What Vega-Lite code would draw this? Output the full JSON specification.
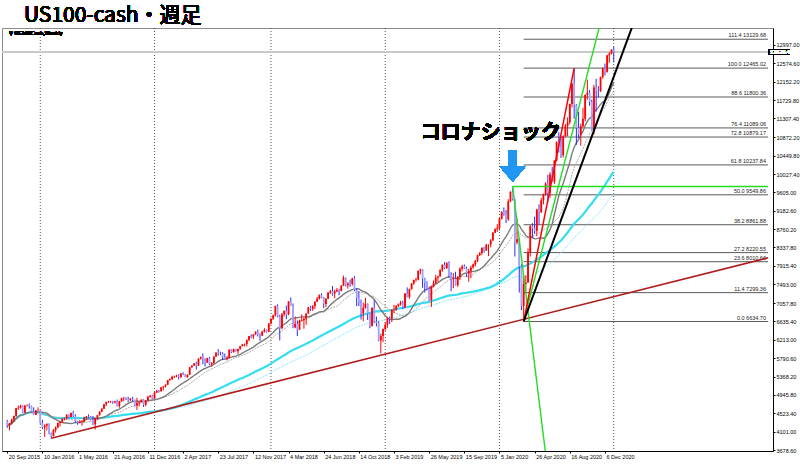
{
"$schema": "https://vega.github.io/schema/vega-lite/v6.json",
"width": 771, "height": 423,
"autosize": {"type": "none"},
"padding": {"left": 2, "top": 28, "right": 27, "bottom": 18},
"background": "white",
"config": {"view": {"stroke": "#8c8c8c", "strokeWidth": 1}, "axis": {"grid": false, "labelOverlap": false, "labelFlush": false}},
"data": {"values": [
{"d":"2015-09-20","o":4340,"h":4370,"l":4190,"c":4240},
{"d":"2015-09-27","o":4240,"h":4300,"l":4130,"c":4290},
{"d":"2015-10-04","o":4290,"h":4400,"l":4260,"c":4380},
{"d":"2015-10-11","o":4380,"h":4470,"l":4330,"c":4460},
{"d":"2015-10-18","o":4460,"h":4650,"l":4440,"c":4640},
{"d":"2015-10-25","o":4640,"h":4700,"l":4600,"c":4650},
{"d":"2015-11-01","o":4650,"h":4720,"l":4630,"c":4700},
{"d":"2015-11-08","o":4700,"h":4710,"l":4530,"c":4540},
{"d":"2015-11-15","o":4540,"h":4710,"l":4530,"c":4700},
{"d":"2015-11-22","o":4700,"h":4730,"l":4680,"c":4710},
{"d":"2015-11-29","o":4710,"h":4750,"l":4630,"c":4690},
{"d":"2015-12-06","o":4690,"h":4700,"l":4550,"c":4560},
{"d":"2015-12-13","o":4560,"h":4660,"l":4480,"c":4490},
{"d":"2015-12-20","o":4490,"h":4600,"l":4480,"c":4590},
{"d":"2015-12-27","o":4590,"h":4660,"l":4580,"c":4593},
{"d":"2016-01-03","o":4593,"h":4600,"l":4280,"c":4300},
{"d":"2016-01-10","o":4300,"h":4370,"l":4160,"c":4200},
{"d":"2016-01-17","o":4200,"h":4270,"l":3980,"c":4240},
{"d":"2016-01-24","o":4240,"h":4290,"l":4130,"c":4280},
{"d":"2016-01-31","o":4280,"h":4290,"l":4040,"c":4050},
{"d":"2016-02-07","o":4050,"h":4080,"l":3950,"c":4000},
{"d":"2016-02-14","o":4000,"h":4160,"l":3990,"c":4140},
{"d":"2016-02-21","o":4140,"h":4220,"l":4080,"c":4200},
{"d":"2016-02-28","o":4200,"h":4310,"l":4180,"c":4300},
{"d":"2016-03-06","o":4300,"h":4340,"l":4220,"c":4330},
{"d":"2016-03-13","o":4330,"h":4410,"l":4300,"c":4400},
{"d":"2016-03-20","o":4400,"h":4420,"l":4360,"c":4405},
{"d":"2016-03-27","o":4405,"h":4500,"l":4380,"c":4490},
{"d":"2016-04-03","o":4490,"h":4500,"l":4420,"c":4440},
{"d":"2016-04-10","o":4440,"h":4540,"l":4430,"c":4530},
{"d":"2016-04-17","o":4530,"h":4580,"l":4440,"c":4470},
{"d":"2016-04-24","o":4470,"h":4500,"l":4310,"c":4340},
{"d":"2016-05-01","o":4340,"h":4350,"l":4260,"c":4310},
{"d":"2016-05-08","o":4310,"h":4370,"l":4290,"c":4320},
{"d":"2016-05-15","o":4320,"h":4360,"l":4240,"c":4330},
{"d":"2016-05-22","o":4330,"h":4440,"l":4320,"c":4430},
{"d":"2016-05-29","o":4430,"h":4460,"l":4390,"c":4450},
{"d":"2016-06-05","o":4450,"h":4500,"l":4420,"c":4440},
{"d":"2016-06-12","o":4440,"h":4460,"l":4360,"c":4380},
{"d":"2016-06-19","o":4380,"h":4460,"l":4250,"c":4270},
{"d":"2016-06-26","o":4270,"h":4420,"l":4150,"c":4410},
{"d":"2016-07-03","o":4410,"h":4480,"l":4370,"c":4480},
{"d":"2016-07-10","o":4480,"h":4570,"l":4470,"c":4560},
{"d":"2016-07-17","o":4560,"h":4640,"l":4550,"c":4630},
{"d":"2016-07-24","o":4630,"h":4730,"l":4620,"c":4730},
{"d":"2016-07-31","o":4730,"h":4790,"l":4690,"c":4780},
{"d":"2016-08-07","o":4780,"h":4810,"l":4760,"c":4790},
{"d":"2016-08-14","o":4790,"h":4810,"l":4760,"c":4795},
{"d":"2016-08-21","o":4795,"h":4810,"l":4740,"c":4770},
{"d":"2016-08-28","o":4770,"h":4810,"l":4750,"c":4800},
{"d":"2016-09-04","o":4800,"h":4840,"l":4680,"c":4690},
{"d":"2016-09-11","o":4690,"h":4810,"l":4650,"c":4800},
{"d":"2016-09-18","o":4800,"h":4880,"l":4790,"c":4870},
{"d":"2016-09-25","o":4870,"h":4900,"l":4800,"c":4880},
{"d":"2016-10-02","o":4880,"h":4890,"l":4830,"c":4850},
{"d":"2016-10-09","o":4850,"h":4900,"l":4780,"c":4830},
{"d":"2016-10-16","o":4830,"h":4870,"l":4800,"c":4860},
{"d":"2016-10-23","o":4860,"h":4900,"l":4800,"c":4830},
{"d":"2016-10-30","o":4830,"h":4840,"l":4680,"c":4700},
{"d":"2016-11-06","o":4700,"h":4880,"l":4600,"c":4760},
{"d":"2016-11-13","o":4760,"h":4790,"l":4680,"c":4780},
{"d":"2016-11-20","o":4780,"h":4840,"l":4770,"c":4840},
{"d":"2016-11-27","o":4840,"h":4850,"l":4670,"c":4720},
{"d":"2016-12-04","o":4720,"h":4830,"l":4680,"c":4820},
{"d":"2016-12-11","o":4820,"h":4930,"l":4810,"c":4900},
{"d":"2016-12-18","o":4900,"h":4940,"l":4880,"c":4930},
{"d":"2016-12-25","o":4930,"h":4950,"l":4850,"c":4860},
{"d":"2017-01-01","o":4860,"h":5010,"l":4860,"c":5000},
{"d":"2017-01-08","o":5000,"h":5060,"l":4990,"c":5040},
{"d":"2017-01-15","o":5040,"h":5060,"l":5000,"c":5030},
{"d":"2017-01-22","o":5030,"h":5130,"l":5020,"c":5120},
{"d":"2017-01-29","o":5120,"h":5150,"l":5050,"c":5140},
{"d":"2017-02-05","o":5140,"h":5190,"l":5120,"c":5180},
{"d":"2017-02-12","o":5180,"h":5290,"l":5170,"c":5290},
{"d":"2017-02-19","o":5290,"h":5320,"l":5270,"c":5310},
{"d":"2017-02-26","o":5310,"h":5390,"l":5290,"c":5360},
{"d":"2017-03-05","o":5360,"h":5390,"l":5330,"c":5370},
{"d":"2017-03-12","o":5370,"h":5410,"l":5350,"c":5390},
{"d":"2017-03-19","o":5390,"h":5420,"l":5300,"c":5360},
{"d":"2017-03-26","o":5360,"h":5450,"l":5330,"c":5440},
{"d":"2017-04-02","o":5440,"h":5470,"l":5400,"c":5420},
{"d":"2017-04-09","o":5420,"h":5430,"l":5350,"c":5355},
{"d":"2017-04-16","o":5355,"h":5420,"l":5340,"c":5410},
{"d":"2017-04-23","o":5410,"h":5590,"l":5410,"c":5580},
{"d":"2017-04-30","o":5580,"h":5630,"l":5570,"c":5620},
{"d":"2017-05-07","o":5620,"h":5680,"l":5610,"c":5670},
{"d":"2017-05-14","o":5670,"h":5710,"l":5530,"c":5620},
{"d":"2017-05-21","o":5620,"h":5790,"l":5610,"c":5780},
{"d":"2017-05-28","o":5780,"h":5830,"l":5760,"c":5820},
{"d":"2017-06-04","o":5820,"h":5900,"l":5650,"c":5780},
{"d":"2017-06-11","o":5780,"h":5790,"l":5600,"c":5690},
{"d":"2017-06-18","o":5690,"h":5800,"l":5680,"c":5790},
{"d":"2017-06-25","o":5790,"h":5820,"l":5630,"c":5650},
{"d":"2017-07-02","o":5650,"h":5700,"l":5600,"c":5680},
{"d":"2017-07-09","o":5680,"h":5830,"l":5660,"c":5830},
{"d":"2017-07-16","o":5830,"h":5920,"l":5820,"c":5920},
{"d":"2017-07-23","o":5920,"h":6000,"l":5850,"c":5900},
{"d":"2017-07-30","o":5900,"h":5940,"l":5860,"c":5890},
{"d":"2017-08-06","o":5890,"h":5930,"l":5750,"c":5810},
{"d":"2017-08-13","o":5810,"h":5900,"l":5760,"c":5770},
{"d":"2017-08-20","o":5770,"h":5840,"l":5740,"c":5800},
{"d":"2017-08-27","o":5800,"h":5990,"l":5780,"c":5990},
{"d":"2017-09-03","o":5990,"h":6000,"l":5910,"c":5930},
{"d":"2017-09-10","o":5930,"h":6010,"l":5920,"c":6000},
{"d":"2017-09-17","o":6000,"h":6010,"l":5940,"c":5950},
{"d":"2017-09-24","o":5950,"h":6010,"l":5890,"c":6000},
{"d":"2017-10-01","o":6000,"h":6070,"l":5990,"c":6070},
{"d":"2017-10-08","o":6070,"h":6120,"l":6060,"c":6110},
{"d":"2017-10-15","o":6110,"h":6130,"l":6060,"c":6115},
{"d":"2017-10-22","o":6115,"h":6220,"l":6060,"c":6210},
{"d":"2017-10-29","o":6210,"h":6300,"l":6180,"c":6300},
{"d":"2017-11-05","o":6300,"h":6340,"l":6250,"c":6290},
{"d":"2017-11-12","o":6290,"h":6340,"l":6230,"c":6340},
{"d":"2017-11-19","o":6340,"h":6410,"l":6330,"c":6400},
{"d":"2017-11-26","o":6400,"h":6450,"l":6290,"c":6330},
{"d":"2017-12-03","o":6330,"h":6360,"l":6190,"c":6310},
{"d":"2017-12-10","o":6310,"h":6420,"l":6300,"c":6400},
{"d":"2017-12-17","o":6400,"h":6480,"l":6380,"c":6440},
{"d":"2017-12-24","o":6440,"h":6450,"l":6380,"c":6400},
{"d":"2017-12-31","o":6400,"h":6600,"l":6390,"c":6590},
{"d":"2018-01-07","o":6590,"h":6710,"l":6570,"c":6700},
{"d":"2018-01-14","o":6700,"h":6790,"l":6670,"c":6780},
{"d":"2018-01-21","o":6780,"h":7000,"l":6750,"c":6990},
{"d":"2018-01-28","o":6990,"h":7030,"l":6730,"c":6750},
{"d":"2018-02-04","o":6750,"h":6790,"l":6200,"c":6480},
{"d":"2018-02-11","o":6480,"h":6830,"l":6460,"c":6800},
{"d":"2018-02-18","o":6800,"h":6890,"l":6750,"c":6880},
{"d":"2018-02-25","o":6880,"h":7000,"l":6690,"c":6800},
{"d":"2018-03-04","o":6800,"h":7100,"l":6780,"c":7100},
{"d":"2018-03-11","o":7100,"h":7190,"l":7000,"c":7000},
{"d":"2018-03-18","o":7000,"h":7050,"l":6480,"c":6500},
{"d":"2018-03-25","o":6500,"h":6750,"l":6480,"c":6580},
{"d":"2018-04-01","o":6580,"h":6660,"l":6300,"c":6450},
{"d":"2018-04-08","o":6450,"h":6680,"l":6440,"c":6650},
{"d":"2018-04-15","o":6650,"h":6800,"l":6640,"c":6670},
{"d":"2018-04-22","o":6670,"h":6730,"l":6470,"c":6700},
{"d":"2018-04-29","o":6700,"h":6820,"l":6560,"c":6820},
{"d":"2018-05-06","o":6820,"h":6970,"l":6810,"c":6960},
{"d":"2018-05-13","o":6960,"h":6990,"l":6880,"c":6930},
{"d":"2018-05-20","o":6930,"h":7010,"l":6880,"c":6990},
{"d":"2018-05-27","o":6990,"h":7100,"l":6920,"c":7090},
{"d":"2018-06-03","o":7090,"h":7200,"l":7090,"c":7160},
{"d":"2018-06-10","o":7160,"h":7260,"l":7140,"c":7240},
{"d":"2018-06-17","o":7240,"h":7280,"l":7170,"c":7190},
{"d":"2018-06-24","o":7190,"h":7200,"l":6940,"c":7040},
{"d":"2018-07-01","o":7040,"h":7170,"l":6970,"c":7160},
{"d":"2018-07-08","o":7160,"h":7310,"l":7150,"c":7300},
{"d":"2018-07-15","o":7300,"h":7360,"l":7270,"c":7330},
{"d":"2018-07-22","o":7330,"h":7450,"l":7230,"c":7280},
{"d":"2018-07-29","o":7280,"h":7370,"l":7170,"c":7330},
{"d":"2018-08-05","o":7330,"h":7410,"l":7310,"c":7360},
{"d":"2018-08-12","o":7360,"h":7390,"l":7240,"c":7340},
{"d":"2018-08-19","o":7340,"h":7470,"l":7330,"c":7460},
{"d":"2018-08-26","o":7460,"h":7690,"l":7450,"c":7640},
{"d":"2018-09-02","o":7640,"h":7650,"l":7440,"c":7470},
{"d":"2018-09-09","o":7470,"h":7540,"l":7390,"c":7510},
{"d":"2018-09-16","o":7510,"h":7600,"l":7430,"c":7500},
{"d":"2018-09-23","o":7500,"h":7640,"l":7460,"c":7630},
{"d":"2018-09-30","o":7630,"h":7680,"l":7330,"c":7360},
{"d":"2018-10-07","o":7360,"h":7400,"l":6990,"c":7180},
{"d":"2018-10-14","o":7180,"h":7330,"l":6990,"c":7080},
{"d":"2018-10-21","o":7080,"h":7140,"l":6680,"c":6820},
{"d":"2018-10-28","o":6820,"h":7070,"l":6640,"c":6950},
{"d":"2018-11-04","o":6950,"h":7180,"l":6930,"c":7040},
{"d":"2018-11-11","o":7040,"h":7050,"l":6670,"c":6810},
{"d":"2018-11-18","o":6810,"h":6820,"l":6480,"c":6530},
{"d":"2018-11-25","o":6530,"h":6960,"l":6520,"c":6950},
{"d":"2018-12-02","o":6950,"h":7120,"l":6600,"c":6630},
{"d":"2018-12-09","o":6630,"h":6750,"l":6520,"c":6600},
{"d":"2018-12-16","o":6600,"h":6640,"l":6180,"c":6200},
{"d":"2018-12-23","o":6200,"h":6360,"l":5900,"c":6300},
{"d":"2018-12-30","o":6300,"h":6470,"l":6160,"c":6460},
{"d":"2019-01-06","o":6460,"h":6620,"l":6420,"c":6560},
{"d":"2019-01-13","o":6560,"h":6730,"l":6490,"c":6720},
{"d":"2019-01-20","o":6720,"h":6750,"l":6580,"c":6700},
{"d":"2019-01-27","o":6700,"h":6920,"l":6620,"c":6900},
{"d":"2019-02-03","o":6900,"h":7020,"l":6830,"c":6905},
{"d":"2019-02-10","o":6905,"h":7010,"l":6880,"c":7000},
{"d":"2019-02-17","o":7000,"h":7050,"l":6970,"c":7040},
{"d":"2019-02-24","o":7040,"h":7110,"l":7000,"c":7070},
{"d":"2019-03-03","o":7070,"h":7110,"l":6920,"c":6960},
{"d":"2019-03-10","o":6960,"h":7290,"l":6950,"c":7280},
{"d":"2019-03-17","o":7280,"h":7420,"l":7190,"c":7200},
{"d":"2019-03-24","o":7200,"h":7390,"l":7160,"c":7380},
{"d":"2019-03-31","o":7380,"h":7520,"l":7370,"c":7510},
{"d":"2019-04-07","o":7510,"h":7600,"l":7480,"c":7590},
{"d":"2019-04-14","o":7590,"h":7640,"l":7550,"c":7600},
{"d":"2019-04-21","o":7600,"h":7810,"l":7580,"c":7800},
{"d":"2019-04-28","o":7800,"h":7850,"l":7720,"c":7830},
{"d":"2019-05-05","o":7830,"h":7840,"l":7410,"c":7620},
{"d":"2019-05-12","o":7620,"h":7640,"l":7300,"c":7530},
{"d":"2019-05-19","o":7530,"h":7560,"l":7350,"c":7390},
{"d":"2019-05-26","o":7390,"h":7440,"l":7110,"c":7130},
{"d":"2019-06-02","o":7130,"h":7460,"l":6970,"c":7450},
{"d":"2019-06-09","o":7450,"h":7580,"l":7420,"c":7520},
{"d":"2019-06-16","o":7520,"h":7710,"l":7500,"c":7640},
{"d":"2019-06-23","o":7640,"h":7690,"l":7550,"c":7670},
{"d":"2019-06-30","o":7670,"h":7840,"l":7670,"c":7820},
{"d":"2019-07-07","o":7820,"h":7950,"l":7780,"c":7940},
{"d":"2019-07-14","o":7940,"h":8000,"l":7840,"c":7860},
{"d":"2019-07-21","o":7860,"h":8000,"l":7850,"c":7980},
{"d":"2019-07-28","o":7980,"h":8020,"l":7660,"c":7700},
{"d":"2019-08-04","o":7700,"h":7770,"l":7330,"c":7610},
{"d":"2019-08-11","o":7610,"h":7750,"l":7400,"c":7620},
{"d":"2019-08-18","o":7620,"h":7780,"l":7460,"c":7470},
{"d":"2019-08-25","o":7470,"h":7680,"l":7430,"c":7660},
{"d":"2019-09-01","o":7660,"h":7880,"l":7590,"c":7850},
{"d":"2019-09-08","o":7850,"h":7940,"l":7790,"c":7900},
{"d":"2019-09-15","o":7900,"h":7950,"l":7840,"c":7860},
{"d":"2019-09-22","o":7860,"h":7900,"l":7660,"c":7740},
{"d":"2019-09-29","o":7740,"h":7850,"l":7550,"c":7800},
{"d":"2019-10-06","o":7800,"h":7920,"l":7630,"c":7880},
{"d":"2019-10-13","o":7880,"h":7970,"l":7850,"c":7950},
{"d":"2019-10-20","o":7950,"h":8050,"l":7900,"c":8030},
{"d":"2019-10-27","o":8030,"h":8170,"l":8000,"c":8160},
{"d":"2019-11-03","o":8160,"h":8230,"l":8140,"c":8210},
{"d":"2019-11-10","o":8210,"h":8340,"l":8170,"c":8330},
{"d":"2019-11-17","o":8330,"h":8350,"l":8220,"c":8270},
{"d":"2019-11-24","o":8270,"h":8420,"l":8260,"c":8400},
{"d":"2019-12-01","o":8400,"h":8410,"l":8140,"c":8405},
{"d":"2019-12-08","o":8405,"h":8530,"l":8340,"c":8500},
{"d":"2019-12-15","o":8500,"h":8690,"l":8490,"c":8680},
{"d":"2019-12-22","o":8680,"h":8780,"l":8670,"c":8760},
{"d":"2019-12-29","o":8760,"h":8880,"l":8700,"c":8790},
{"d":"2020-01-05","o":8790,"h":9020,"l":8730,"c":9000},
{"d":"2020-01-12","o":9000,"h":9170,"l":8980,"c":9160},
{"d":"2020-01-19","o":9160,"h":9260,"l":9070,"c":9110},
{"d":"2020-01-26","o":9110,"h":9200,"l":8900,"c":8990},
{"d":"2020-02-02","o":8990,"h":9450,"l":8950,"c":9400},
{"d":"2020-02-09","o":9400,"h":9630,"l":9380,"c":9620},
{"d":"2020-02-16","o":9620,"h":9740,"l":9420,"c":9450},
{"d":"2020-02-23","o":9450,"h":9460,"l":8130,"c":8460},
{"d":"2020-03-01","o":8460,"h":9000,"l":8410,"c":8530},
{"d":"2020-03-08","o":8530,"h":8560,"l":7300,"c":7900},
{"d":"2020-03-15","o":7900,"h":7950,"l":6900,"c":6990},
{"d":"2020-03-22","o":6990,"h":7700,"l":6634.7,"c":7500},
{"d":"2020-03-29","o":7500,"h":7700,"l":7280,"c":7530},
{"d":"2020-04-05","o":7530,"h":8320,"l":7530,"c":8230},
{"d":"2020-04-12","o":8230,"h":8850,"l":8130,"c":8830},
{"d":"2020-04-19","o":8830,"h":8900,"l":8550,"c":8780},
{"d":"2020-04-26","o":8780,"h":9050,"l":8650,"c":8720},
{"d":"2020-05-03","o":8720,"h":9230,"l":8600,"c":9210},
{"d":"2020-05-10","o":9210,"h":9330,"l":8860,"c":9150},
{"d":"2020-05-17","o":9150,"h":9480,"l":9130,"c":9420},
{"d":"2020-05-24","o":9420,"h":9580,"l":9330,"c":9560},
{"d":"2020-05-31","o":9560,"h":9840,"l":9530,"c":9810},
{"d":"2020-06-07","o":9810,"h":10010,"l":9380,"c":9590},
{"d":"2020-06-14","o":9590,"h":10070,"l":9480,"c":10020},
{"d":"2020-06-21","o":10020,"h":10190,"l":9840,"c":9850},
{"d":"2020-06-28","o":9850,"h":10340,"l":9800,"c":10340},
{"d":"2020-07-05","o":10340,"h":10780,"l":10320,"c":10760},
{"d":"2020-07-12","o":10760,"h":10990,"l":10520,"c":10650},
{"d":"2020-07-19","o":10650,"h":10890,"l":10400,"c":10460},
{"d":"2020-07-26","o":10460,"h":10920,"l":10410,"c":10900},
{"d":"2020-08-02","o":10900,"h":11180,"l":10880,"c":11130},
{"d":"2020-08-09","o":11130,"h":11330,"l":10900,"c":11220},
{"d":"2020-08-16","o":11220,"h":11650,"l":11170,"c":11640},
{"d":"2020-08-23","o":11640,"h":12130,"l":11560,"c":12110},
{"d":"2020-08-30","o":12110,"h":12465,"l":11300,"c":11620},
{"d":"2020-09-06","o":11620,"h":11640,"l":10700,"c":11090},
{"d":"2020-09-13","o":11090,"h":11460,"l":10860,"c":10940},
{"d":"2020-09-20","o":10940,"h":11190,"l":10680,"c":11130},
{"d":"2020-09-27","o":11130,"h":11550,"l":11100,"c":11300},
{"d":"2020-10-04","o":11300,"h":11860,"l":11240,"c":11850},
{"d":"2020-10-11","o":11850,"h":12200,"l":11740,"c":11900},
{"d":"2020-10-18","o":11900,"h":11960,"l":11600,"c":11690},
{"d":"2020-10-25","o":11690,"h":11740,"l":11030,"c":11050},
{"d":"2020-11-01","o":11050,"h":12080,"l":10940,"c":12020},
{"d":"2020-11-08","o":12020,"h":12220,"l":11460,"c":11940},
{"d":"2020-11-15","o":11940,"h":12050,"l":11790,"c":11930},
{"d":"2020-11-22","o":11930,"h":12270,"l":11920,"c":12260},
{"d":"2020-11-29","o":12260,"h":12480,"l":12220,"c":12460},
{"d":"2020-12-06","o":12460,"h":12570,"l":12300,"c":12380},
{"d":"2020-12-13","o":12380,"h":12770,"l":12360,"c":12760},
{"d":"2020-12-20","o":12760,"h":12830,"l":12590,"c":12800},
{"d":"2020-12-27","o":12800,"h":12900,"l":12780,"c":12890},
{"d":"2021-01-03","o":12890,"h":12960,"l":12600,"c":12828.44}
]},
"layer": [
{"data": {"values": [{"d":"2016-01-03"},{"d":"2017-01-01"},{"d":"2018-01-07"},{"d":"2019-01-06"},{"d":"2020-01-05"},{"d":"2021-01-03"}]},
 "mark": {"type": "rule", "color": "#555555", "strokeDash": [1, 2], "strokeWidth": 1},
 "encoding": {"x": {"field": "d", "type": "temporal", "title": null,
   "scale": {"type": "utc", "domain": [{"year":2015,"month":9,"date":19,"utc":true},{"year":2022,"month":5,"date":9,"hours":12,"utc":true}]},
   "axis": {"values": [{"year":2015,"month":9,"date":20,"utc":true},{"year":2016,"month":1,"date":10,"utc":true},{"year":2016,"month":5,"date":1,"utc":true},{"year":2016,"month":8,"date":21,"utc":true},{"year":2016,"month":12,"date":11,"utc":true},{"year":2017,"month":4,"date":2,"utc":true},{"year":2017,"month":7,"date":23,"utc":true},{"year":2017,"month":11,"date":12,"utc":true},{"year":2018,"month":3,"date":4,"utc":true},{"year":2018,"month":6,"date":24,"utc":true},{"year":2018,"month":10,"date":14,"utc":true},{"year":2019,"month":2,"date":3,"utc":true},{"year":2019,"month":5,"date":26,"utc":true},{"year":2019,"month":9,"date":15,"utc":true},{"year":2020,"month":1,"date":5,"utc":true},{"year":2020,"month":4,"date":26,"utc":true},{"year":2020,"month":8,"date":16,"utc":true},{"year":2020,"month":12,"date":6,"utc":true}],
     "tickCount": 40, "format": "%-d %b %Y", "labelAlign": "left", "labelBaseline": "top", "labelOffset": 1, "labelFont": "Liberation Sans", "labelFontSize": 5.5, "labelColor": "#000", "labelPadding": 1, "labelOverlap": false, "labelFlush": false, "tickSize": 2, "tickColor": "#000", "domainColor": "#000", "title": null}}}},
{"mark": {"type": "rule", "strokeWidth": 1},
 "encoding": {"x": {"field": "d", "type": "temporal", "title": null},
   "y": {"field": "l", "type": "quantitative", "title": null, "scale": {"domain": [3655.6, 13388.1], "nice": false, "zero": false},
     "axis": {"orient": "right", "tickCount": 40, "values": [3678.6,4101,4523.4,4945.8,5368.2,5790.6,6213,6635.4,7057.8,7493,7915.4,8337.8,8760.2,9182.6,9605,10027.4,10449.8,10872.2,11307.4,11729.8,12152.2,12574.6,12997], "format": ".2f", "labelFont": "Liberation Sans", "labelFontSize": 5.5, "labelColor": "#000", "labelPadding": 1, "labelOverlap": false, "labelFlush": false, "tickSize": 2, "tickColor": "#000", "domainColor": "#000", "title": null}},
   "y2": {"field": "h"},
   "opacity": {"value": 0}}},
{"data": {"values": [
  {"v":13129.68,"t":"111.4 13129.68"},{"v":12465.02,"t":"100.0 12465.02"},{"v":11800.36,"t":"88.6 11800.36"},{"v":11089.06,"t":"76.4 11089.06"},{"v":10879.17,"t":"72.8 10879.17"},{"v":10237.84,"t":"61.8 10237.84"},{"v":9549.86,"t":"50.0 9549.86"},{"v":8861.88,"t":"38.2 8861.88"},{"v":8220.55,"t":"27.2 8220.55"},{"v":8010.66,"t":"23.6 8010.66"},{"v":7299.36,"t":"11.4 7299.36"},{"v":6634.70,"t":"0.0 6634.70"}]},
 "layer": [
  {"mark": {"type": "rule", "color": "#5a5a5a", "strokeWidth": 1},
   "encoding": {"x": {"datum": {"year":2020,"month":3,"date":22,"utc":true}, "type": "temporal", "title": null},
     "x2": {"datum": {"year":2022,"month":5,"date":9,"hours":12,"utc":true}},
     "y": {"field": "v", "type": "quantitative", "title": null}}},
  {"mark": {"type": "text", "align": "right", "baseline": "alphabetic", "dx": -2, "dy": -2, "font": "Liberation Sans", "fontSize": 5.5, "color": "#222"},
   "encoding": {"x": {"datum": {"year":2022,"month":5,"date":9,"hours":12,"utc":true}, "type": "temporal", "title": null},
     "y": {"field": "v", "type": "quantitative", "title": null},
     "text": {"field": "t"}}}
 ]},
{"mark": {"type": "rule", "color": "#c8c8c8", "strokeWidth": 1},
 "encoding": {"y": {"datum": 12828.44, "type": "quantitative", "title": null}}},
{"transform": [{"window": [{"op": "mean", "field": "c", "as": "ma"}], "frame": [-79, 0], "sort": [{"field": "d"}]}],
 "mark": {"type": "line", "color": "#8fe6ff", "strokeWidth": 1, "strokeDash": [2, 1]},
 "encoding": {"x": {"field": "d", "type": "temporal", "title": null}, "y": {"field": "ma", "type": "quantitative", "title": null}}},
{"transform": [{"window": [{"op": "mean", "field": "c", "as": "ma"}], "frame": [-61, 0], "sort": [{"field": "d"}]}],
 "mark": {"type": "line", "color": "#33ddf2", "strokeWidth": 2.2},
 "encoding": {"x": {"field": "d", "type": "temporal", "title": null}, "y": {"field": "ma", "type": "quantitative", "title": null}}},
{"transform": [{"window": [{"op": "mean", "field": "c", "as": "ma"}], "frame": [-20, 0], "sort": [{"field": "d"}]}],
 "mark": {"type": "line", "color": "#aaaaaa", "strokeWidth": 1, "strokeDash": [2, 1]},
 "encoding": {"x": {"field": "d", "type": "temporal", "title": null}, "y": {"field": "ma", "type": "quantitative", "title": null}}},
{"transform": [{"window": [{"op": "mean", "field": "c", "as": "ma"}], "frame": [-14, 0], "sort": [{"field": "d"}]}],
 "mark": {"type": "line", "color": "#7a7a7a", "strokeWidth": 1.4},
 "encoding": {"x": {"field": "d", "type": "temporal", "title": null}, "y": {"field": "ma", "type": "quantitative", "title": null}}},
{"mark": {"type": "rule", "strokeWidth": 1},
 "encoding": {"x": {"field": "d", "type": "temporal", "title": null},
   "y": {"field": "l", "type": "quantitative", "title": null}, "y2": {"field": "h"},
   "color": {"condition": {"test": "datum.c >= datum.o", "value": "#ff0000"}, "value": "#2b2bff"}}},
{"mark": {"type": "bar", "size": 1.8},
 "encoding": {"x": {"field": "d", "type": "temporal", "title": null},
   "y": {"field": "o", "type": "quantitative", "title": null}, "y2": {"field": "c"},
   "color": {"condition": {"test": "datum.c >= datum.o", "value": "#ff0000"}, "value": "#a3a3ff"}}},
{"data": {"values": [
  {"id":"base","d":"2016-02-07","v":3950},{"id":"base","d":"2022-05-10","v":8100},
  {"id":"gh","d":"2020-02-16","v":9740},{"id":"gh","d":"2022-05-10","v":9740},
  {"id":"gd","d":"2020-02-16","v":9740},{"id":"gd","d":"2020-06-07","v":3180},
  {"id":"gu","d":"2020-03-22","v":6634.7},{"id":"gu","d":"2020-11-22","v":13514},
  {"id":"rd","d":"2020-03-22","v":6634.7},{"id":"rd","d":"2020-08-30","v":12465},
  {"id":"bk","d":"2020-03-22","v":6634.7},{"id":"bk","d":"2021-03-07","v":13500}]},
 "layer": [
  {"transform": [{"filter": "datum.id === 'base'"}],
   "mark": {"type": "line", "color": "#b01c1c", "strokeWidth": 1.6, "clip": true},
   "encoding": {"x": {"field": "d", "type": "temporal", "title": null}, "y": {"field": "v", "type": "quantitative", "title": null}}},
  {"transform": [{"filter": "datum.id === 'gh' || datum.id === 'gd' || datum.id === 'gu'"}],
   "mark": {"type": "line", "color": "#22dd22", "strokeWidth": 1.4, "clip": true},
   "encoding": {"x": {"field": "d", "type": "temporal", "title": null}, "y": {"field": "v", "type": "quantitative", "title": null}, "detail": {"field": "id"}}},
  {"transform": [{"filter": "datum.id === 'rd'"}],
   "mark": {"type": "line", "color": "#ff0000", "strokeWidth": 1.5, "clip": true},
   "encoding": {"x": {"field": "d", "type": "temporal", "title": null}, "y": {"field": "v", "type": "quantitative", "title": null}}},
  {"transform": [{"filter": "datum.id === 'bk'"}],
   "mark": {"type": "line", "color": "#000000", "strokeWidth": 2, "clip": true},
   "encoding": {"x": {"field": "d", "type": "temporal", "title": null}, "y": {"field": "v", "type": "quantitative", "title": null}}}
 ]},
{"mark": {"type": "rect", "color": "#000000"},
 "encoding": {"x": {"datum": {"year":2022,"month":5,"date":9,"hours":12,"utc":true}, "type": "temporal", "title": null},
   "x2": {"datum": {"year":2022,"month":7,"date":17,"utc":true}},
   "y": {"datum": 12775, "type": "quantitative", "title": null}, "y2": {"datum": 12905}}},
{"mark": {"type": "text", "align": "left", "baseline": "middle", "dx": 2, "font": "Liberation Sans", "fontSize": 5.5, "color": "#ffffff"},
 "encoding": {"x": {"datum": {"year":2022,"month":5,"date":9,"hours":12,"utc":true}, "type": "temporal", "title": null},
   "y": {"datum": 12828.44, "type": "quantitative", "title": null}, "text": {"value": "12828.44"}}},
{"mark": {"type": "text", "align": "left", "baseline": "middle", "dx": 2, "font": "DejaVu Sans", "fontSize": 5, "color": "#000"},
 "encoding": {"x": {"datum": {"year":2015,"month":9,"date":19,"utc":true}, "type": "temporal", "title": null},
   "y": {"datum": 13266, "type": "quantitative", "title": null}, "text": {"value": "▼ US100Cash,Weekly"}}},
{"mark": {"type": "text", "align": "left", "baseline": "alphabetic", "font": "Noto Sans CJK JP", "fontSize": 21, "fontWeight": "normal", "color": "#000"},
 "encoding": {"x": {"datum": {"year":2015,"month":11,"date":12,"utc":true}, "type": "temporal", "title": null},
   "y": {"datum": 13533, "type": "quantitative", "title": null}, "text": {"value": "US100-cash・週足"}}},
{"mark": {"type": "text", "align": "center", "baseline": "middle", "font": "Noto Sans CJK JP", "fontSize": 20, "fontWeight": "bold", "color": "#000"},
 "encoding": {"x": {"datum": {"year":2019,"month":12,"date":8,"utc":true}, "type": "temporal", "title": null},
   "y": {"datum": 10972, "type": "quantitative", "title": null}, "text": {"value": "コロナショック"}}},
{"mark": {"type": "point", "shape": "M-0.26,-1L0.26,-1L0.26,0.06L0.79,0.06L0,1L-0.79,0.06L-0.26,0.06Z", "size": 1005, "filled": true, "color": "#2196f3", "opacity": 1, "strokeWidth": 0},
 "encoding": {"x": {"datum": {"year":2020,"month":2,"date":16,"utc":true}, "type": "temporal", "title": null},
   "y": {"datum": 10218, "type": "quantitative", "title": null}}}
]
}
